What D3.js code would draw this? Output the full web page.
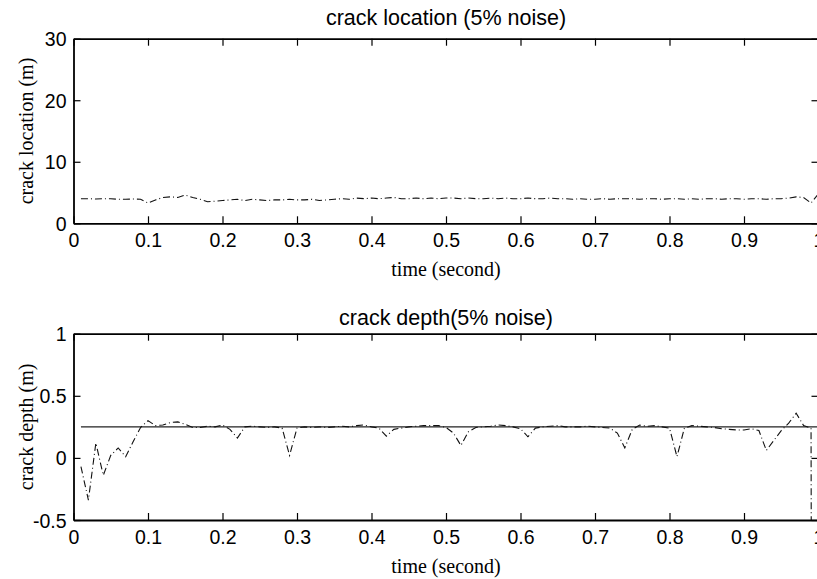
<!DOCTYPE html>
<html><head><meta charset="utf-8">
<script src="https://cdn.jsdelivr.net/npm/d3@7/dist/d3.min.js"></script>
<style>body{margin:0;background:#fff;} svg{display:block;}</style>
</head><body>
<svg id="chart" width="817" height="579"></svg>
<script>
const times = [0.01,0.02,0.03,0.04,0.05,0.06,0.07,0.08,0.09,0.10,
0.11,0.12,0.13,0.14,0.15,0.16,0.17,0.18,0.19,0.20,
0.21,0.22,0.23,0.24,0.25,0.26,0.27,0.28,0.29,0.30,
0.31,0.32,0.33,0.34,0.35,0.36,0.37,0.38,0.39,0.40,
0.41,0.42,0.43,0.44,0.45,0.46,0.47,0.48,0.49,0.50,
0.51,0.52,0.53,0.54,0.55,0.56,0.57,0.58,0.59,0.60,
0.61,0.62,0.63,0.64,0.65,0.66,0.67,0.68,0.69,0.70,
0.71,0.72,0.73,0.74,0.75,0.76,0.77,0.78,0.79,0.80,
0.81,0.82,0.83,0.84,0.85,0.86,0.87,0.88,0.89,0.90,
0.91,0.92,0.93,0.94,0.95,0.96,0.97,0.98,0.99,1.00];

const crackLocation = [4.0,4.0,3.95,4.0,4.0,3.9,3.9,3.95,3.9,3.3,
3.8,4.2,4.3,4.2,4.6,4.2,3.9,3.5,3.6,3.7,
3.8,3.9,3.7,3.9,3.8,3.7,3.8,3.8,3.9,3.8,
3.8,3.9,3.7,3.8,3.9,4.0,3.9,4.1,4.0,4.1,
4.0,4.1,4.2,4.0,4.0,4.1,4.0,4.1,4.0,4.1,
4.1,4.0,4.1,4.0,4.0,4.1,4.0,4.1,4.0,4.0,
4.1,4.0,4.0,4.1,4.0,4.0,3.9,4.0,3.9,3.9,
4.0,3.9,4.0,4.0,4.0,3.9,4.0,4.0,3.9,4.0,
4.0,3.9,4.0,3.9,4.0,4.0,3.9,4.0,4.0,3.9,
4.0,4.0,3.9,4.0,4.0,4.1,4.3,4.2,3.3,4.8];

const crackDepth = [-0.07,-0.34,0.12,-0.14,0.02,0.08,0.01,0.13,0.245,0.30,
0.26,0.265,0.285,0.29,0.27,0.245,0.245,0.255,0.25,0.265,
0.23,0.16,0.25,0.255,0.25,0.245,0.25,0.24,0.02,0.24,
0.25,0.245,0.25,0.245,0.25,0.255,0.25,0.26,0.265,0.25,
0.24,0.175,0.23,0.24,0.25,0.255,0.26,0.26,0.26,0.245,
0.20,0.10,0.21,0.245,0.25,0.255,0.265,0.26,0.25,0.235,
0.17,0.24,0.25,0.255,0.26,0.25,0.25,0.25,0.255,0.25,
0.245,0.24,0.20,0.08,0.23,0.265,0.255,0.26,0.25,0.24,
0.01,0.24,0.26,0.255,0.25,0.245,0.235,0.23,0.225,0.225,
0.235,0.22,0.06,0.14,0.22,0.28,0.36,0.26,0.24,-30];

const trueDepth = 0.25;
const trueDepthRange = [0.01, 1.0];

const xTicks = [0,0.1,0.2,0.3,0.4,0.5,0.6,0.7,0.8,0.9,1];
const locTicks = [0,10,20,30];
const depthTicks = [-0.5,0,0.5,1];

const svg = d3.select("#chart");
const left = 73.5, right = 818.5;
const x = d3.scaleLinear().domain([0,1]).range([left,right]);
const SANS = "'Liberation Sans', Arial, sans-serif";
const SERIF = "'Liberation Serif', 'Times New Roman', serif";

function panel(opts){
  const {top, bottom, domain, ticks, tickFmt, series, title, titleY, ylabel, id, ref} = opts;
  const y = d3.scaleLinear().domain(domain).range([bottom, top]);
  const g = svg.append("g");
  svg.append("clipPath").attr("id", id).append("rect")
    .attr("x", left).attr("y", top).attr("width", right-left).attr("height", bottom-top);

  const plot = g.append("g").attr("clip-path", `url(#${id})`);
  if (ref) {
    plot.append("line")
      .attr("x1", x(ref.range[0])).attr("x2", x(ref.range[1]))
      .attr("y1", y(ref.value)).attr("y2", y(ref.value))
      .attr("stroke", "#222").attr("stroke-width", 1.3);
  }
  const line = d3.line().x((d,i)=>x(times[i])).y(d=>y(d));
  plot.append("path").datum(series)
    .attr("d", line).attr("fill","none")
    .attr("stroke","#111").attr("stroke-width",1.1)
    .attr("stroke-dasharray","7,3,1,3");

  const ax = d3.axisBottom(x).tickValues(xTicks).tickSizeInner(-7).tickSizeOuter(0).tickPadding(10)
    .tickFormat(d=>d===0?"0":(d===1?"1":d3.format(".1f")(d)));
  const gx = g.append("g").attr("transform",`translate(0,${bottom})`).call(ax);
  const axTop = d3.axisTop(x).tickValues(xTicks).tickSizeInner(-7).tickSizeOuter(0).tickFormat("");
  const gxt = g.append("g").attr("transform",`translate(0,${top})`).call(axTop);
  const ay = d3.axisLeft(y).tickValues(ticks).tickSizeInner(-7).tickSizeOuter(0).tickPadding(7).tickFormat(tickFmt);
  const gy = g.append("g").attr("transform",`translate(${left},0)`).call(ay);
  const ayr = d3.axisRight(y).tickValues(ticks).tickSizeInner(-7).tickSizeOuter(0).tickFormat("");
  const gyr = g.append("g").attr("transform",`translate(${right},0)`).call(ayr);
  [gx,gxt,gy,gyr].forEach(a=>{
    a.select(".domain").attr("stroke","#000").attr("stroke-width",1.8);
    a.selectAll(".tick line").attr("stroke","#000").attr("stroke-width",1.2);
    a.selectAll("text").attr("font-family",SANS).attr("font-size",19.5).attr("fill","#000");
  });
  gy.selectAll("text").attr("dy","0.36em");

  g.append("text").attr("x",(left+right)/2).attr("y",titleY)
    .attr("text-anchor","middle").attr("font-family",SANS)
    .attr("font-size",21.5).text(title);
  g.append("text").attr("x",(left+right)/2).attr("y",bottom+53)
    .attr("text-anchor","middle").attr("font-family",SERIF)
    .attr("font-size",20).text("time (second)");
  g.append("text").attr("transform",`translate(33,${(top+bottom)/2}) rotate(-90)`)
    .attr("text-anchor","middle").attr("font-family",SERIF)
    .attr("font-size",20).text(ylabel);
}

panel({top:38.7,bottom:223.3,domain:[0,30],ticks:locTicks,tickFmt:d3.format("d"),
  series:crackLocation,title:"crack location (5% noise)",titleY:25,ylabel:"crack location (m)",id:"clipA"});
panel({top:333.7,bottom:520,domain:[-0.5,1],ticks:depthTicks,tickFmt:d=>d===0?"0":(d===1?"1":String(d)),
  series:crackDepth,title:"crack depth(5% noise)",titleY:325,ylabel:"crack depth (m)",id:"clipB",
  ref:{value:trueDepth,range:trueDepthRange}});
</script>
</body></html>
